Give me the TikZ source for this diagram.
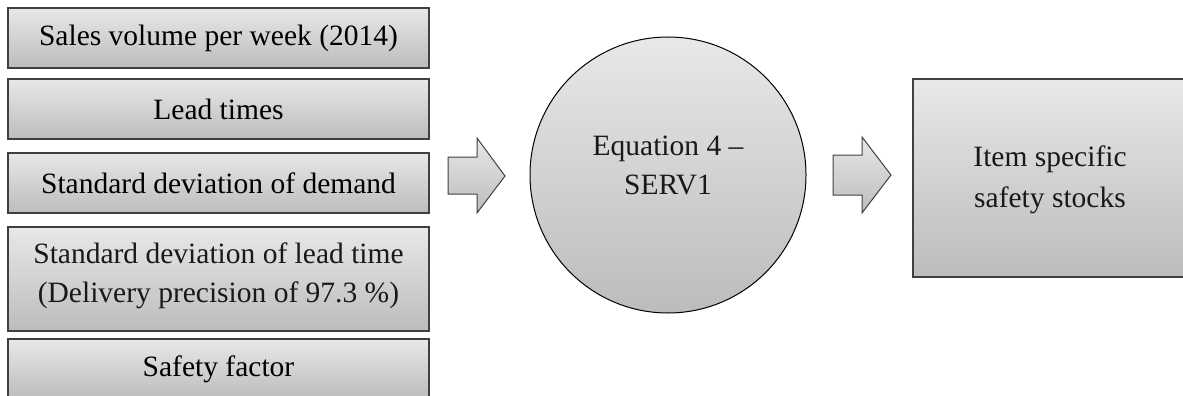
\documentclass[tikz,border=0pt]{standalone}
\usepackage{fontspec}
\setmainfont{Liberation Serif}
\usetikzlibrary{positioning}
\definecolor{edgegray}{HTML}{404040}
\definecolor{toplight}{HTML}{E8E8E8}
\definecolor{botdark}{HTML}{BCBCBC}
\tikzset{
  inbox/.style={draw=edgegray, line width=1.3pt, top color=toplight, bottom color=botdark,
    minimum width=421pt, inner sep=0pt, align=center, font=\fontsize{29.5}{40}\selectfont},
  bigarrow/.style={draw=edgegray, line width=1pt, top color=toplight, bottom color=botdark},
  eqcircle/.style={draw=black, line width=1pt, top color=toplight, bottom color=botdark,
    circle, minimum size=276pt, inner sep=0pt},
  lbl/.style={align=center, font=\fontsize{29.5}{39}\selectfont, text=black!90}
}
\begin{document}
\begin{tikzpicture}[x=1pt,y=-1pt]
\useasboundingbox (0,0) rectangle (1183,396);
\clip (0,0) rectangle (1183,396);
\node[inbox, minimum height=60pt] (b1) at (218.5,38) {Sales volume per week (2014)};
\node[inbox, minimum height=60pt] (b2) at (218.5,109) {Lead times};
\node[inbox, minimum height=60pt] (b3) at (218.5,183) {Standard deviation of demand};
\node[inbox, minimum height=104pt] (b4) at (218.5,279) {};
\node[lbl] (b4t) at (218.5,276) {Standard deviation of lead time\\(Delivery precision of 97.3 \%)};
\node[inbox, minimum height=60pt] (b5) at (218.5,369) {Safety factor};
% block arrow 1
\path[bigarrow] (448,157) -- (477,157) -- (477,138) -- (505,176) -- (477,213) -- (477,194) -- (448,194) -- cycle;
% circle
\node[eqcircle] (eq) at (668,175) {};
\node[lbl] (eqt) at (668,165) {Equation 4 --\\SERV1};
% block arrow 2
\path[bigarrow] (833,155) -- (862,155) -- (862,137) -- (891,175) -- (862,213) -- (862,195) -- (833,195) -- cycle;
% output box
\node[inbox, minimum width=274pt, minimum height=198pt] (out) at (1050,178) {};
\node[lbl] (outt) at (1050,180) {Item specific\\[2pt]safety stocks};
\end{tikzpicture}
\end{document}
